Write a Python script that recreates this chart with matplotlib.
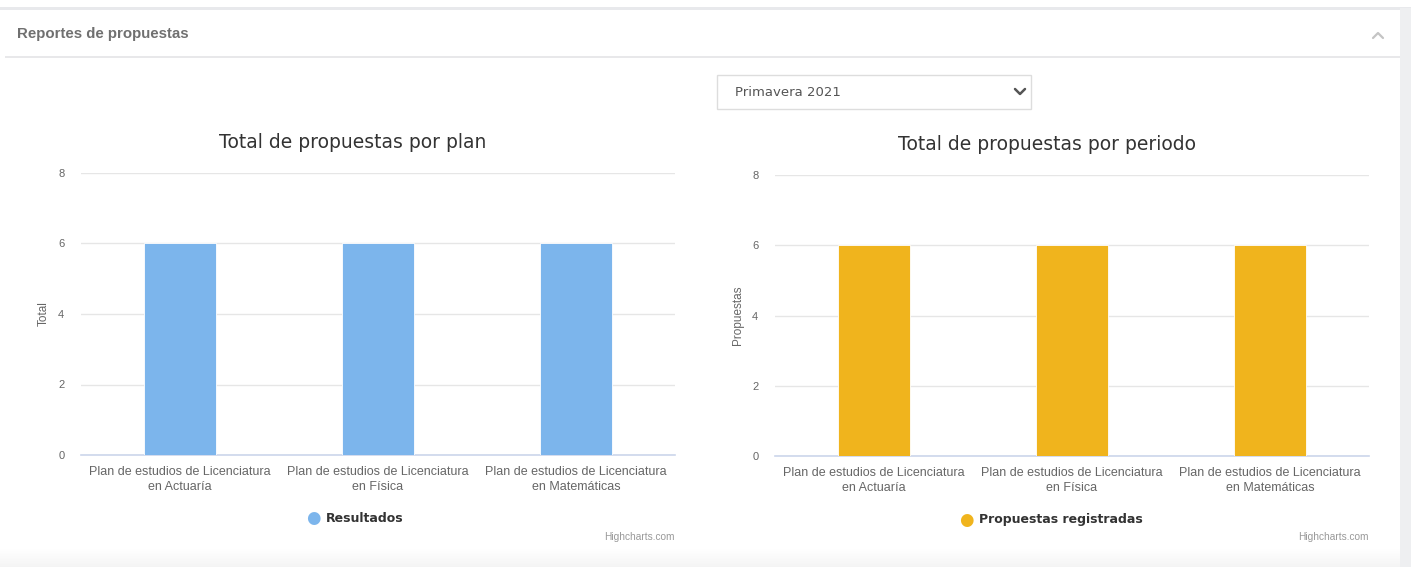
import matplotlib
matplotlib.use("Agg")
import matplotlib.pyplot as plt
from matplotlib.patches import Rectangle
from matplotlib.lines import Line2D
import numpy as np

# data
categorias = ["Plan de estudios de Licenciatura\nen Actuaría",
              "Plan de estudios de Licenciatura\nen Física",
              "Plan de estudios de Licenciatura\nen Matemáticas"]
resultados = [6, 6, 6]
propuestas_registradas = [6, 6, 6]
y_ticks = [0, 2, 4, 6, 8]

W, H = 1411, 567
BLUE = "#7cb5ec"
GOLD = "#f0b41d"
GRID = "#e6e6e6"
AXIS = "#ccd6eb"
TXT = "#666666"
FONT = "Liberation Sans"

fig = plt.figure(figsize=(W / 100, H / 100), dpi=100)
fig.patch.set_facecolor("white")


def fx(x):
    return x / W


def fy(y):
    return 1 - y / H


def chevron(xs, ys, color, lw):
    fig.add_artist(Line2D([fx(x) for x in xs], [fy(y) for y in ys],
                          transform=fig.transFigure, color=color, lw=lw,
                          solid_capstyle="round", solid_joinstyle="round"))


# page chrome
fig.add_artist(Rectangle((0, fy(10)), 1, 3 / H, transform=fig.transFigure,
                         color="#e8e9ec", lw=0))
fig.add_artist(Rectangle((fx(1400), 0), 11 / W, fy(8), transform=fig.transFigure,
                         color="#eeeff1", lw=0))
fig.add_artist(Rectangle((fx(5), fy(58)), fx(1395), 1.5 / H, transform=fig.transFigure,
                         color="#e8e8ea", lw=0))
# bottom fading strip
for i in range(20):
    g = 1 - 0.045 * (i / 19)
    fig.add_artist(Rectangle((0, fy(548 + i + 1)), fx(1400), 1.05 / H,
                             transform=fig.transFigure, color=(g, g, g), lw=0))

fig.text(fx(17), fy(34), "Reportes de propuestas", fontsize=10.8, color="#707070",
         fontweight="bold", va="center", ha="left", family=FONT)
chevron([1373, 1378, 1383], [38, 33, 38], "#c4c4c4", 1.6)

# dropdown
fig.add_artist(Rectangle((fx(717), fy(109)), fx(1031) - fx(717), 34 / H,
                         transform=fig.transFigure, facecolor="white",
                         edgecolor="#dddddd", lw=1))
fig.text(fx(735), fy(92), "Primavera 2021", fontsize=9.5, color="#555555",
         va="center", ha="left", family="DejaVu Sans")
chevron([1015, 1020, 1025], [89, 94, 89], "#555555", 1.8)


def panel(x0, x1, ytop, ybot, values, color, title, ylabel, legend, title_y, leg_y):
    ax = fig.add_axes([fx(x0), fy(ybot), fx(x1) - fx(x0), fy(ytop) - fy(ybot)])
    pos = np.arange(len(categorias))
    ax.bar(pos, values, width=0.36, color=color, edgecolor="white", lw=0.6, zorder=3)
    ax.set_xlim(-0.5, len(categorias) - 0.5)
    ax.set_ylim(0, 8)
    ax.set_yticks(y_ticks)
    ax.set_yticklabels([str(t) for t in y_ticks], fontsize=8, color=TXT, family=FONT)
    ax.set_xticks(pos)
    ax.set_xticklabels(categorias, fontsize=9, color=TXT, family=FONT,
                       linespacing=1.35)
    ax.tick_params(axis="y", length=0, pad=12)
    ax.tick_params(axis="x", length=0, pad=8)
    ax.grid(axis="y", color=GRID, lw=1, zorder=0)
    for s in ["top", "right", "left"]:
        ax.spines[s].set_visible(False)
    ax.spines["bottom"].set_color(AXIS)
    ax.spines["bottom"].set_linewidth(1.2)
    ax.set_ylabel(ylabel, fontsize=8.5, color=TXT, family=FONT, labelpad=6)
    cx = (x0 + x1) / 2 - 25
    fig.text(fx(cx), fy(title_y), title, fontsize=13.5, color="#333333",
             ha="center", va="center", family="DejaVu Sans")
    # legend
    tw = len(legend) * 6.8
    tx = cx - (tw + 14) / 2 + 14
    fig.text(fx(tx - 13), fy(leg_y), "●", fontsize=12, color=color, ha="center",
             va="center", family="DejaVu Sans")
    fig.text(fx(tx), fy(leg_y), legend, fontsize=9, color="#333333",
             fontweight="bold", ha="left", va="center", family="DejaVu Sans")
    fig.text(fx(x1), fy(537), "Highcharts.com", fontsize=7.3, color="#999999",
             ha="right", va="center", family=FONT)
    return ax


panel(81, 675, 173, 455, resultados, BLUE, "Total de propuestas por plan",
      "Total", "Resultados", 143, 518)
panel(775, 1369, 175, 456, propuestas_registradas, GOLD,
      "Total de propuestas por periodo", "Propuestas", "Propuestas registradas", 144, 520)

fig.savefig("out.png", dpi=100)
